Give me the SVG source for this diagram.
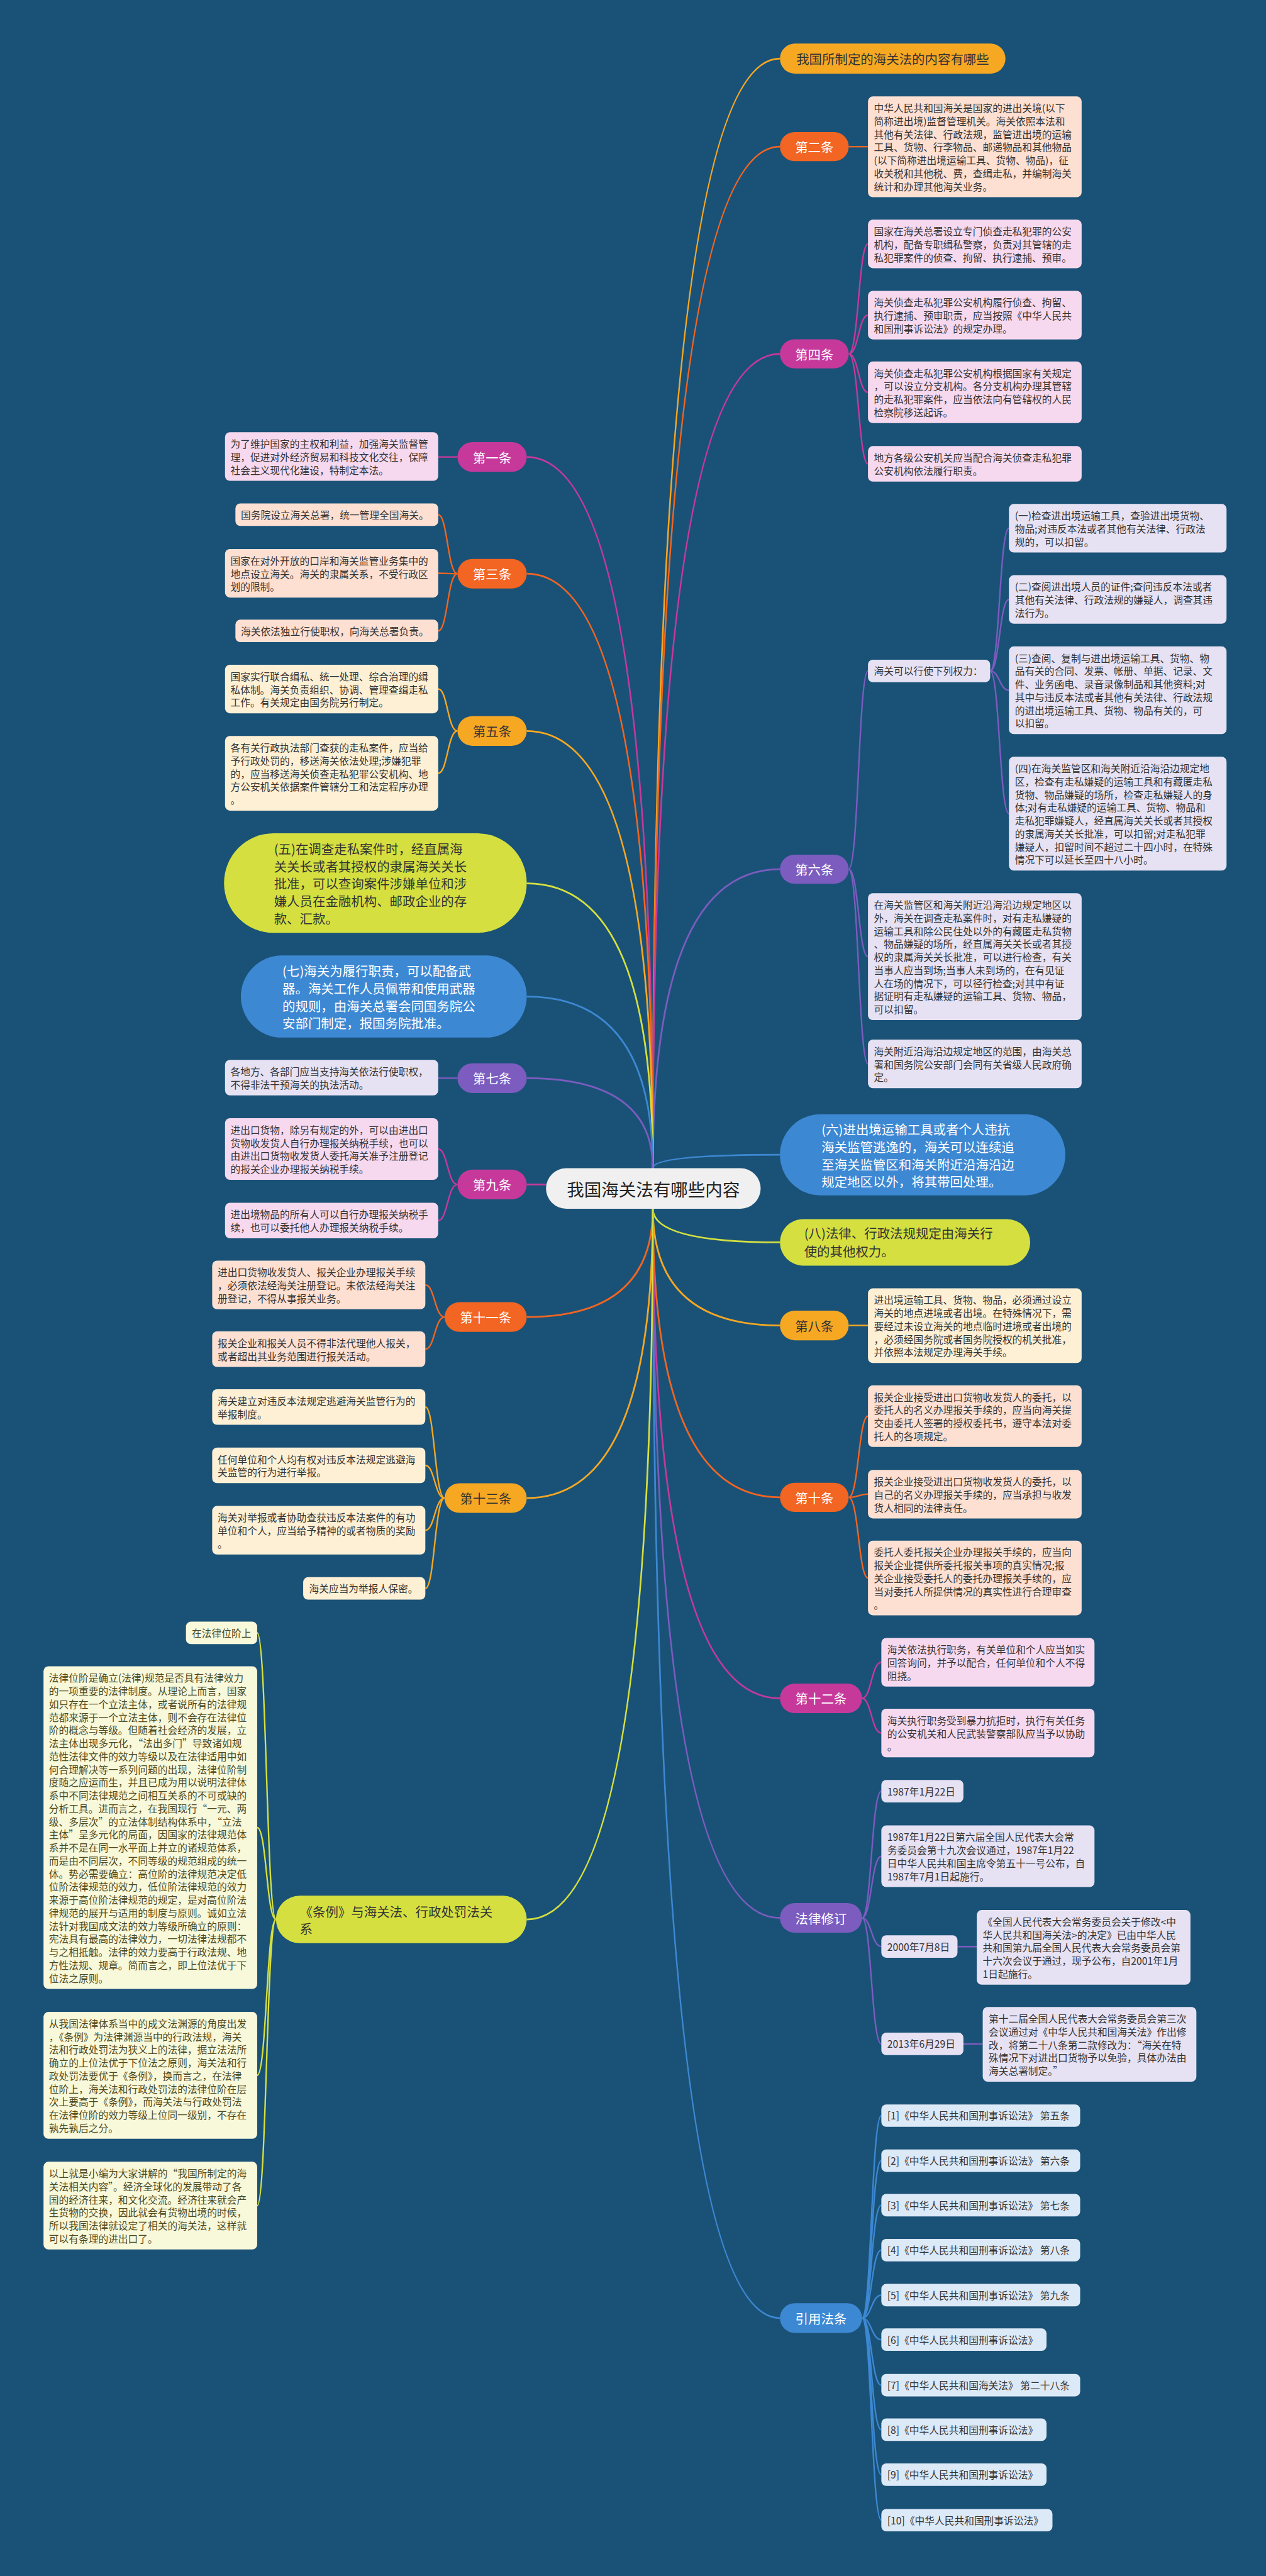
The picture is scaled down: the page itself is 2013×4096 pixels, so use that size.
<svg xmlns="http://www.w3.org/2000/svg" width="2013" height="4096" viewBox="0 0 2013 4096">
<style>
text{font-family:'Noto Sans CJK SC','Noto Sans',sans-serif;dominant-baseline:central}
.bt{font-size:20px;fill:#333}
.yt{font-size:20px;fill:#4d4a1f}
.nt{font-size:26px;text-anchor:middle}
.big{font-size:26px}
.w{fill:#fff}
.d{fill:#333}
.fm{fill:#c6399b}.fo{fill:#f26522}.fg{fill:#f7a823}.fp{fill:#7c5cbf}.fb{fill:#3d88d3}.fy{fill:#d5e040}
.bm{fill:#f7d9ef}.bo{fill:#fee0d2}.bg{fill:#fef0d5}.bp{fill:#e6e2f4}.bb{fill:#dce9f7}.by{fill:#f8f8da}
.c{fill:none;stroke-width:3.5}
.k{fill:none;stroke-width:3}
.sm{stroke:#c6399b}.so{stroke:#f26522}.sg{stroke:#f7a823}.sp{stroke:#7c5cbf}.sb{stroke:#3d88d3}.sy{stroke:#d5e040}
</style>
<rect x="0" y="0" width="2013" height="4096" fill="#1a5277"/>
<g transform="scale(0.7864)">
<g id="connectors">
<path class="c sg" d="M1320,2362 Q1320,118.5 1577,118.5"/>
<path class="c so" d="M1320,2362 Q1320,296.5 1577,296.5"/>
<path class="c sm" d="M1320,2362 Q1320,715.5 1577,715.5"/>
<path class="c sp" d="M1320,2362 Q1320,1757.5 1577,1757.5"/>
<path class="c sb" d="M1320,2362 Q1320,2335 1577,2335"/>
<path class="c sy" d="M1320,2444 Q1320,2512 1577,2512"/>
<path class="c sg" d="M1320,2444 Q1320,2680 1577,2680"/>
<path class="c so" d="M1320,2444 Q1320,3027.5 1577,3027.5"/>
<path class="c sm" d="M1320,2444 Q1320,3434 1577,3434"/>
<path class="c sp" d="M1320,2444 Q1320,3878 1577,3878"/>
<path class="c sb" d="M1320,2444 Q1320,4687 1577,4687"/>
<path class="c sm" d="M1320,2362 Q1320,924 1065,924"/>
<path class="c so" d="M1320,2362 Q1320,1160 1065,1160"/>
<path class="c sg" d="M1320,2362 Q1320,1478 1065,1478"/>
<path class="c sy" d="M1320,2362 Q1320,1786 1065,1786"/>
<path class="c sb" d="M1320,2362 Q1320,2015 1065,2015"/>
<path class="c sp" d="M1320,2362 Q1320,2180 1065,2180"/>
<path class="c sm" d="M1065,2395 L1104,2395"/>
<path class="c so" d="M1320,2444 Q1320,2663 1065,2663"/>
<path class="c sg" d="M1320,2444 Q1320,3029 1065,3029"/>
<path class="c sy" d="M1320,2444 Q1320,3881 1065,3881"/>

<path class="k so" d="M1716,296.5 L1755,296.5"/>
<path class="k sm" d="M1716,715.5 C1736,715.5 1736,493.1 1755,493.1 M1716,715.5 C1736,715.5 1736,637.1 1755,637.1 M1716,715.5 C1736,715.5 1736,793.3 1755,793.3 M1716,715.5 C1736,715.5 1736,937.9 1755,937.9"/>
<path class="k sp" d="M1716,1757.5 C1736,1757.5 1736,1356.7 1755,1356.7 M1716,1757.5 C1736,1757.5 1736,1934.3 1755,1934.3 M1716,1757.5 C1736,1757.5 1736,2151.1 1755,2151.1"/>
<path class="k sp" d="M2002,1356.7 C2021,1356.7 2021,1068.1 2040,1068.1 M2002,1356.7 C2021,1356.7 2021,1212.1 2040,1212.1 M2002,1356.7 C2021,1356.7 2021,1395.7 2040,1395.7 M2002,1356.7 C2021,1356.7 2021,1645.1 2040,1645.1"/>
<path class="k sg" d="M1716,2680 L1755,2680"/>
<path class="k so" d="M1716,3027.5 C1736,3027.5 1736,2863.3 1755,2863.3 M1716,3027.5 C1736,3027.5 1736,3021.1 1755,3021.1 M1716,3027.5 C1736,3027.5 1736,3190.5 1755,3190.5"/>
<path class="k sm" d="M1743,3434 C1762,3434 1762,3361.1 1782,3361.1 M1743,3434 C1762,3434 1762,3504.1 1782,3504.1"/>
<path class="k sp" d="M1743,3878 C1762,3878 1762,3621.7 1782,3621.7 M1743,3878 C1762,3878 1762,3753.3 1782,3753.3 M1743,3878 C1762,3878 1762,3935.7 1782,3935.7 M1743,3878 C1762,3878 1762,4132.7 1782,4132.7"/>
<path class="k sp" d="M1936,3936 L1975,3936 M1948,4133 L1987,4133"/>
<path class="k sb" d="M1743,4687 C1762,4687 1762,4277.7 1782,4277.7 M1743,4687 C1762,4687 1762,4368.7 1782,4368.7 M1743,4687 C1762,4687 1762,4458.7 1782,4458.7 M1743,4687 C1762,4687 1762,4549.7 1782,4549.7 M1743,4687 C1762,4687 1762,4640.7 1782,4640.7 M1743,4687 C1762,4687 1762,4730.7 1782,4730.7 M1743,4687 C1762,4687 1762,4822.7 1782,4822.7 M1743,4687 C1762,4687 1762,4912.7 1782,4912.7 M1743,4687 C1762,4687 1762,5003.7 1782,5003.7 M1743,4687 C1762,4687 1762,5095.7 1782,5095.7"/>
<path class="k sm" d="M925,924 L886,924"/>
<path class="k so" d="M925,1160 C905,1160 905,1040.7 886,1040.7 M925,1160 C905,1160 905,1159.1 886,1159.1 M925,1160 C905,1160 905,1275.7 886,1275.7"/>
<path class="k sg" d="M925,1478 C905,1478 905,1393.1 886,1393.1 M925,1478 C905,1478 905,1563.5 886,1563.5"/>
<path class="k sp" d="M925,2180 L886,2180"/>
<path class="k sm" d="M925,2395 C905,2395 905,2323.3 886,2323.3 M925,2395 C905,2395 905,2467.9 886,2467.9"/>
<path class="k so" d="M899,2663 C879,2663 879,2598.1 860,2598.1 M899,2663 C879,2663 879,2727.9 860,2727.9"/>
<path class="k sg" d="M899,3029 C879,3029 879,2844.9 860,2844.9 M899,3029 C879,3029 879,2962.9 860,2962.9 M899,3029 C879,3029 879,3094.1 860,3094.1 M899,3029 C879,3029 879,3211.7 860,3211.7"/>
<path class="k sy" d="M558,3881 C539,3881 539,3301.7 520,3301.7 M558,3881 C539,3881 539,3695.3 520,3695.3 M558,3881 C539,3881 539,4196.3 520,4196.3 M558,3881 C539,3881 539,4459.7 520,4459.7"/>
</g>

<g id="center">
<rect x="1104" y="2362" width="434" height="82" rx="41" fill="#f0f0f0"/>
<text x="1321" y="2403" font-size="35" text-anchor="middle" fill="#222">我国海关法有哪些内容</text>
</g>

<g id="n-title">
<rect class="fg" x="1577" y="88" width="456" height="61" rx="30.5"/>
<text class="nt d" x="1805" y="118.5">我国所制定的海关法的内容有哪些</text>
</g>

<g id="n-2">
<rect class="fo" x="1577" y="267" width="139" height="59" rx="29.5"/>
<text class="nt w" x="1646.5" y="296.5">第二条</text>
<rect class="bo" x="1755" y="195" width="432" height="203.8" rx="10"/>
<text class="bt" x="1767" y="217.7"><tspan x="1767">中华人民共和国海关是国家的进出关境(以下</tspan><tspan x="1767" dy="26.4">简称进出境)监督管理机关。海关依照本法和</tspan><tspan x="1767" dy="26.4">其他有关法律、行政法规，监管进出境的运输</tspan><tspan x="1767" dy="26.4">工具、货物、行李物品、邮递物品和其他物品</tspan><tspan x="1767" dy="26.4">(以下简称进出境运输工具、货物、物品)，征</tspan><tspan x="1767" dy="26.4">收关税和其他税、费，查缉走私，并编制海关</tspan><tspan x="1767" dy="26.4">统计和办理其他海关业务。</tspan></text>
</g>

<g id="n-4">
<rect class="fm" x="1577" y="686" width="139" height="59" rx="29.5"/>
<text class="nt w" x="1646.5" y="715.5">第四条</text>
<rect class="bm" x="1755" y="444" width="432" height="98.2" rx="10"/>
<text class="bt" x="1767" y="466.7"><tspan x="1767">国家在海关总署设立专门侦查走私犯罪的公安</tspan><tspan x="1767" dy="26.4">机构，配备专职缉私警察，负责对其管辖的走</tspan><tspan x="1767" dy="26.4">私犯罪案件的侦查、拘留、执行逮捕、预审。</tspan></text>
<rect class="bm" x="1755" y="588" width="432" height="98.2" rx="10"/>
<text class="bt" x="1767" y="610.7"><tspan x="1767">海关侦查走私犯罪公安机构履行侦查、拘留、</tspan><tspan x="1767" dy="26.4">执行逮捕、预审职责，应当按照《中华人民共</tspan><tspan x="1767" dy="26.4">和国刑事诉讼法》的规定办理。</tspan></text>
<rect class="bm" x="1755" y="731" width="432" height="124.6" rx="10"/>
<text class="bt" x="1767" y="753.7"><tspan x="1767">海关侦查走私犯罪公安机构根据国家有关规定</tspan><tspan x="1767" dy="26.4">，可以设立分支机构。各分支机构办理其管辖</tspan><tspan x="1767" dy="26.4">的走私犯罪案件，应当依法向有管辖权的人民</tspan><tspan x="1767" dy="26.4">检察院移送起诉。</tspan></text>
<rect class="bm" x="1755" y="902" width="432" height="71.8" rx="10"/>
<text class="bt" x="1767" y="924.7"><tspan x="1767">地方各级公安机关应当配合海关侦查走私犯罪</tspan><tspan x="1767" dy="26.4">公安机构依法履行职责。</tspan></text>
</g>

<g id="n-6">
<rect class="fp" x="1577" y="1728" width="139" height="59" rx="29.5"/>
<text class="nt w" x="1646.5" y="1757.5">第六条</text>
<rect class="bp" x="1755" y="1334" width="247" height="45.4" rx="10"/>
<text class="bt" x="1767" y="1356.7">海关可以行使下列权力：</text>
<rect class="bp" x="2040" y="1019" width="440" height="98.2" rx="10"/>
<text class="bt" x="2052" y="1041.7"><tspan x="2052">(一)检查进出境运输工具，查验进出境货物、</tspan><tspan x="2052" dy="26.4">物品;对违反本法或者其他有关法律、行政法</tspan><tspan x="2052" dy="26.4">规的，可以扣留。</tspan></text>
<rect class="bp" x="2040" y="1163" width="440" height="98.2" rx="10"/>
<text class="bt" x="2052" y="1185.7"><tspan x="2052">(二)查阅进出境人员的证件;查问违反本法或者</tspan><tspan x="2052" dy="26.4">其他有关法律、行政法规的嫌疑人，调查其违</tspan><tspan x="2052" dy="26.4">法行为。</tspan></text>
<rect class="bp" x="2040" y="1307" width="440" height="177.4" rx="10"/>
<text class="bt" x="2052" y="1329.7"><tspan x="2052">(三)查阅、复制与进出境运输工具、货物、物</tspan><tspan x="2052" dy="26.4">品有关的合同、发票、帐册、单据、记录、文</tspan><tspan x="2052" dy="26.4">件、业务函电、录音录像制品和其他资料;对</tspan><tspan x="2052" dy="26.4">其中与违反本法或者其他有关法律、行政法规</tspan><tspan x="2052" dy="26.4">的进出境运输工具、货物、物品有关的，可</tspan><tspan x="2052" dy="26.4">以扣留。</tspan></text>
<rect class="bp" x="2040" y="1530" width="440" height="230.2" rx="10"/>
<text class="bt" x="2052" y="1552.7"><tspan x="2052">(四)在海关监管区和海关附近沿海沿边规定地</tspan><tspan x="2052" dy="26.4">区，检查有走私嫌疑的运输工具和有藏匿走私</tspan><tspan x="2052" dy="26.4">货物、物品嫌疑的场所，检查走私嫌疑人的身</tspan><tspan x="2052" dy="26.4">体;对有走私嫌疑的运输工具、货物、物品和</tspan><tspan x="2052" dy="26.4">走私犯罪嫌疑人，经直属海关关长或者其授权</tspan><tspan x="2052" dy="26.4">的隶属海关关长批准，可以扣留;对走私犯罪</tspan><tspan x="2052" dy="26.4">嫌疑人，扣留时间不超过二十四小时，在特殊</tspan><tspan x="2052" dy="26.4">情况下可以延长至四十八小时。</tspan></text>
<rect class="bp" x="1755" y="1806" width="432" height="256.6" rx="10"/>
<text class="bt" x="1767" y="1828.7"><tspan x="1767">在海关监管区和海关附近沿海沿边规定地区以</tspan><tspan x="1767" dy="26.4">外，海关在调查走私案件时，对有走私嫌疑的</tspan><tspan x="1767" dy="26.4">运输工具和除公民住处以外的有藏匿走私货物</tspan><tspan x="1767" dy="26.4">、物品嫌疑的场所，经直属海关关长或者其授</tspan><tspan x="1767" dy="26.4">权的隶属海关关长批准，可以进行检查，有关</tspan><tspan x="1767" dy="26.4">当事人应当到场;当事人未到场的，在有见证</tspan><tspan x="1767" dy="26.4">人在场的情况下，可以径行检查;对其中有证</tspan><tspan x="1767" dy="26.4">据证明有走私嫌疑的运输工具、货物、物品，</tspan><tspan x="1767" dy="26.4">可以扣留。</tspan></text>
<rect class="bp" x="1755" y="2102" width="432" height="98.2" rx="10"/>
<text class="bt" x="1767" y="2124.7"><tspan x="1767">海关附近沿海沿边规定地区的范围，由海关总</tspan><tspan x="1767" dy="26.4">署和国务院公安部门会同有关省级人民政府确</tspan><tspan x="1767" dy="26.4">定。</tspan></text>
</g>

<g id="n-liu">
<rect class="fb" x="1577" y="2253" width="577" height="164" rx="82"/>
<text class="big w" x="1661" y="2283"><tspan x="1661">(六)进出境运输工具或者个人违抗</tspan><tspan x="1661" dy="35.2">海关监管逃逸的，海关可以连续追</tspan><tspan x="1661" dy="35.2">至海关监管区和海关附近沿海沿边</tspan><tspan x="1661" dy="35.2">规定地区以外，将其带回处理。</tspan></text>
</g>

<g id="n-ba">
<rect class="fy" x="1577" y="2465" width="506" height="94" rx="47"/>
<text class="big d" x="1626" y="2493"><tspan x="1626">(八)法律、行政法规规定由海关行</tspan><tspan x="1626" dy="36">使的其他权力。</tspan></text>
</g>

<g id="n-8">
<rect class="fg" x="1577" y="2650" width="139" height="60" rx="30"/>
<text class="nt d" x="1646.5" y="2680">第八条</text>
<rect class="bg" x="1755" y="2605" width="432" height="151" rx="10"/>
<text class="bt" x="1767" y="2627.7"><tspan x="1767">进出境运输工具、货物、物品，必须通过设立</tspan><tspan x="1767" dy="26.4">海关的地点进境或者出境。在特殊情况下，需</tspan><tspan x="1767" dy="26.4">要经过未设立海关的地点临时进境或者出境的</tspan><tspan x="1767" dy="26.4">，必须经国务院或者国务院授权的机关批准，</tspan><tspan x="1767" dy="26.4">并依照本法规定办理海关手续。</tspan></text>
</g>

<g id="n-10">
<rect class="fo" x="1577" y="2998" width="139" height="59" rx="29.5"/>
<text class="nt w" x="1646.5" y="3027.5">第十条</text>
<rect class="bo" x="1755" y="2801" width="432" height="124.6" rx="10"/>
<text class="bt" x="1767" y="2823.7"><tspan x="1767">报关企业接受进出口货物收发货人的委托，以</tspan><tspan x="1767" dy="26.4">委托人的名义办理报关手续的，应当向海关提</tspan><tspan x="1767" dy="26.4">交由委托人签署的授权委托书，遵守本法对委</tspan><tspan x="1767" dy="26.4">托人的各项规定。</tspan></text>
<rect class="bo" x="1755" y="2972" width="432" height="98.2" rx="10"/>
<text class="bt" x="1767" y="2994.7"><tspan x="1767">报关企业接受进出口货物收发货人的委托，以</tspan><tspan x="1767" dy="26.4">自己的名义办理报关手续的，应当承担与收发</tspan><tspan x="1767" dy="26.4">货人相同的法律责任。</tspan></text>
<rect class="bo" x="1755" y="3115" width="432" height="151" rx="10"/>
<text class="bt" x="1767" y="3137.7"><tspan x="1767">委托人委托报关企业办理报关手续的，应当向</tspan><tspan x="1767" dy="26.4">报关企业提供所委托报关事项的真实情况;报</tspan><tspan x="1767" dy="26.4">关企业接受委托人的委托办理报关手续的，应</tspan><tspan x="1767" dy="26.4">当对委托人所提供情况的真实性进行合理审查</tspan><tspan x="1767" dy="26.4">。</tspan></text>
</g>

<g id="n-12">
<rect class="fm" x="1577" y="3404" width="166" height="60" rx="30"/>
<text class="nt w" x="1660" y="3434">第十二条</text>
<rect class="bm" x="1782" y="3312" width="431" height="98.2" rx="10"/>
<text class="bt" x="1794" y="3334.7"><tspan x="1794">海关依法执行职务，有关单位和个人应当如实</tspan><tspan x="1794" dy="26.4">回答询问，并予以配合，任何单位和个人不得</tspan><tspan x="1794" dy="26.4">阻挠。</tspan></text>
<rect class="bm" x="1782" y="3455" width="431" height="98.2" rx="10"/>
<text class="bt" x="1794" y="3477.7"><tspan x="1794">海关执行职务受到暴力抗拒时，执行有关任务</tspan><tspan x="1794" dy="26.4">的公安机关和人民武装警察部队应当予以协助</tspan><tspan x="1794" dy="26.4">。</tspan></text>
</g>

<g id="n-xiuding">
<rect class="fp" x="1577" y="3848" width="166" height="60" rx="30"/>
<text class="nt w" x="1660" y="3878">法律修订</text>
<rect class="bp" x="1782" y="3599" width="166" height="45.4" rx="10"/>
<text class="bt" x="1794" y="3621.7">1987年1月22日</text>
<rect class="bp" x="1782" y="3691" width="431" height="124.6" rx="10"/>
<text class="bt" x="1794" y="3713.7"><tspan x="1794">1987年1月22日第六届全国人民代表大会常</tspan><tspan x="1794" dy="26.4">务委员会第十九次会议通过，1987年1月22</tspan><tspan x="1794" dy="26.4">日中华人民共和国主席令第五十一号公布，自</tspan><tspan x="1794" dy="26.4">1987年7月1日起施行。</tspan></text>
<rect class="bp" x="1782" y="3913" width="154" height="45.4" rx="10"/>
<text class="bt" x="1794" y="3935.7">2000年7月8日</text>
<rect class="bp" x="1975" y="3862" width="432" height="151" rx="10"/>
<text class="bt" x="1987" y="3884.7"><tspan x="1987">《全国人民代表大会常务委员会关于修改&lt;中</tspan><tspan x="1987" dy="26.4">华人民共和国海关法&gt;的决定》已由中华人民</tspan><tspan x="1987" dy="26.4">共和国第九届全国人民代表大会常务委员会第</tspan><tspan x="1987" dy="26.4">十六次会议于通过，现予公布，自2001年1月</tspan><tspan x="1987" dy="26.4">1日起施行。</tspan></text>
<rect class="bp" x="1782" y="4110" width="166" height="45.4" rx="10"/>
<text class="bt" x="1794" y="4132.7">2013年6月29日</text>
<rect class="bp" x="1987" y="4058" width="432" height="151" rx="10"/>
<text class="bt" x="1999" y="4080.7"><tspan x="1999">第十二届全国人民代表大会常务委员会第三次</tspan><tspan x="1999" dy="26.4">会议通过对《中华人民共和国海关法》作出修</tspan><tspan x="1999" dy="26.4">改，将第二十八条第二款修改为：“海关在特</tspan><tspan x="1999" dy="26.4">殊情况下对进出口货物予以免验，具体办法由</tspan><tspan x="1999" dy="26.4">海关总署制定。”</tspan></text>
</g>

<g id="n-yinyong">
<rect class="fb" x="1577" y="4657" width="166" height="60" rx="30"/>
<text class="nt w" x="1660" y="4687">引用法条</text>
<rect class="bb" x="1782" y="4255" width="402" height="45.4" rx="10"/>
<text class="bt" x="1794" y="4277.7">[1]《中华人民共和国刑事诉讼法》 第五条</text>
<rect class="bb" x="1782" y="4346" width="402" height="45.4" rx="10"/>
<text class="bt" x="1794" y="4368.7">[2]《中华人民共和国刑事诉讼法》 第六条</text>
<rect class="bb" x="1782" y="4436" width="402" height="45.4" rx="10"/>
<text class="bt" x="1794" y="4458.7">[3]《中华人民共和国刑事诉讼法》 第七条</text>
<rect class="bb" x="1782" y="4527" width="402" height="45.4" rx="10"/>
<text class="bt" x="1794" y="4549.7">[4]《中华人民共和国刑事诉讼法》 第八条</text>
<rect class="bb" x="1782" y="4618" width="402" height="45.4" rx="10"/>
<text class="bt" x="1794" y="4640.7">[5]《中华人民共和国刑事诉讼法》 第九条</text>
<rect class="bb" x="1782" y="4708" width="334" height="45.4" rx="10"/>
<text class="bt" x="1794" y="4730.7">[6]《中华人民共和国刑事诉讼法》</text>
<rect class="bb" x="1782" y="4800" width="402" height="45.4" rx="10"/>
<text class="bt" x="1794" y="4822.7">[7]《中华人民共和国海关法》 第二十八条</text>
<rect class="bb" x="1782" y="4890" width="334" height="45.4" rx="10"/>
<text class="bt" x="1794" y="4912.7">[8]《中华人民共和国刑事诉讼法》</text>
<rect class="bb" x="1782" y="4981" width="334" height="45.4" rx="10"/>
<text class="bt" x="1794" y="5003.7">[9]《中华人民共和国刑事诉讼法》</text>
<rect class="bb" x="1782" y="5073" width="346" height="45.4" rx="10"/>
<text class="bt" x="1794" y="5095.7">[10]《中华人民共和国刑事诉讼法》</text>
</g>

<g id="n-1">
<rect class="fm" x="925" y="894" width="140" height="60" rx="30"/>
<text class="nt w" x="995" y="924">第一条</text>
<rect class="bm" x="455" y="874" width="431" height="98.2" rx="10"/>
<text class="bt" x="466" y="896.7"><tspan x="466">为了维护国家的主权和利益，加强海关监督管</tspan><tspan x="466" dy="26.4">理，促进对外经济贸易和科技文化交往，保障</tspan><tspan x="466" dy="26.4">社会主义现代化建设，特制定本法。</tspan></text>
</g>

<g id="n-3">
<rect class="fo" x="925" y="1130" width="140" height="60" rx="30"/>
<text class="nt w" x="995" y="1160">第三条</text>
<rect class="bo" x="476" y="1018" width="410" height="45.4" rx="10"/>
<text class="bt" x="487" y="1040.7">国务院设立海关总署，统一管理全国海关。</text>
<rect class="bo" x="455" y="1110" width="431" height="98.2" rx="10"/>
<text class="bt" x="466" y="1132.7"><tspan x="466">国家在对外开放的口岸和海关监管业务集中的</tspan><tspan x="466" dy="26.4">地点设立海关。海关的隶属关系，不受行政区</tspan><tspan x="466" dy="26.4">划的限制。</tspan></text>
<rect class="bo" x="476" y="1253" width="410" height="45.4" rx="10"/>
<text class="bt" x="487" y="1275.7">海关依法独立行使职权，向海关总署负责。</text>
</g>

<g id="n-5">
<rect class="fg" x="925" y="1448" width="140" height="60" rx="30"/>
<text class="nt d" x="995" y="1478">第五条</text>
<rect class="bg" x="455" y="1344" width="431" height="98.2" rx="10"/>
<text class="bt" x="466" y="1366.7"><tspan x="466">国家实行联合缉私、统一处理、综合治理的缉</tspan><tspan x="466" dy="26.4">私体制。海关负责组织、协调、管理查缉走私</tspan><tspan x="466" dy="26.4">工作。有关规定由国务院另行制定。</tspan></text>
<rect class="bg" x="455" y="1488" width="431" height="151" rx="10"/>
<text class="bt" x="466" y="1510.7"><tspan x="466">各有关行政执法部门查获的走私案件，应当给</tspan><tspan x="466" dy="26.4">予行政处罚的，移送海关依法处理;涉嫌犯罪</tspan><tspan x="466" dy="26.4">的，应当移送海关侦查走私犯罪公安机构、地</tspan><tspan x="466" dy="26.4">方公安机关依据案件管辖分工和法定程序办理</tspan><tspan x="466" dy="26.4">。</tspan></text>
</g>

<g id="n-wu">
<rect class="fy" x="453" y="1685" width="612" height="201" rx="100"/>
<text class="big d" x="554" y="1715"><tspan x="554">(五)在调查走私案件时，经直属海</tspan><tspan x="554" dy="35.4">关关长或者其授权的隶属海关关长</tspan><tspan x="554" dy="35.4">批准，可以查询案件涉嫌单位和涉</tspan><tspan x="554" dy="35.4">嫌人员在金融机构、邮政企业的存</tspan><tspan x="554" dy="35.4">款、汇款。</tspan></text>
</g>

<g id="n-qi">
<rect class="fb" x="487" y="1932" width="578" height="166" rx="83"/>
<text class="big w" x="571" y="1962"><tspan x="571">(七)海关为履行职责，可以配备武</tspan><tspan x="571" dy="35.4">器。海关工作人员佩带和使用武器</tspan><tspan x="571" dy="35.4">的规则，由海关总署会同国务院公</tspan><tspan x="571" dy="35.4">安部门制定，报国务院批准。</tspan></text>
</g>

<g id="n-7">
<rect class="fp" x="925" y="2150" width="140" height="60" rx="30"/>
<text class="nt w" x="995" y="2180">第七条</text>
<rect class="bp" x="455" y="2143" width="431" height="71.8" rx="10"/>
<text class="bt" x="466" y="2165.7"><tspan x="466">各地方、各部门应当支持海关依法行使职权，</tspan><tspan x="466" dy="26.4">不得非法干预海关的执法活动。</tspan></text>
</g>

<g id="n-9">
<rect class="fm" x="925" y="2365" width="140" height="60" rx="30"/>
<text class="nt w" x="995" y="2395">第九条</text>
<rect class="bm" x="455" y="2261" width="431" height="124.6" rx="10"/>
<text class="bt" x="466" y="2283.7"><tspan x="466">进出口货物，除另有规定的外，可以由进出口</tspan><tspan x="466" dy="26.4">货物收发货人自行办理报关纳税手续，也可以</tspan><tspan x="466" dy="26.4">由进出口货物收发货人委托海关准予注册登记</tspan><tspan x="466" dy="26.4">的报关企业办理报关纳税手续。</tspan></text>
<rect class="bm" x="455" y="2432" width="431" height="71.8" rx="10"/>
<text class="bt" x="466" y="2454.7"><tspan x="466">进出境物品的所有人可以自行办理报关纳税手</tspan><tspan x="466" dy="26.4">续，也可以委托他人办理报关纳税手续。</tspan></text>
</g>

<g id="n-11">
<rect class="fo" x="899" y="2633" width="166" height="60" rx="30"/>
<text class="nt w" x="982" y="2663">第十一条</text>
<rect class="bo" x="429" y="2549" width="431" height="98.2" rx="10"/>
<text class="bt" x="440" y="2571.7"><tspan x="440">进出口货物收发货人、报关企业办理报关手续</tspan><tspan x="440" dy="26.4">，必须依法经海关注册登记。未依法经海关注</tspan><tspan x="440" dy="26.4">册登记，不得从事报关业务。</tspan></text>
<rect class="bo" x="429" y="2692" width="431" height="71.8" rx="10"/>
<text class="bt" x="440" y="2714.7"><tspan x="440">报关企业和报关人员不得非法代理他人报关，</tspan><tspan x="440" dy="26.4">或者超出其业务范围进行报关活动。</tspan></text>
</g>

<g id="n-13">
<rect class="fg" x="899" y="2999" width="166" height="60" rx="30"/>
<text class="nt d" x="982" y="3029">第十三条</text>
<rect class="bg" x="429" y="2809" width="431" height="71.8" rx="10"/>
<text class="bt" x="440" y="2831.7"><tspan x="440">海关建立对违反本法规定逃避海关监管行为的</tspan><tspan x="440" dy="26.4">举报制度。</tspan></text>
<rect class="bg" x="429" y="2927" width="431" height="71.8" rx="10"/>
<text class="bt" x="440" y="2949.7"><tspan x="440">任何单位和个人均有权对违反本法规定逃避海</tspan><tspan x="440" dy="26.4">关监管的行为进行举报。</tspan></text>
<rect class="bg" x="429" y="3045" width="431" height="98.2" rx="10"/>
<text class="bt" x="440" y="3067.7"><tspan x="440">海关对举报或者协助查获违反本法案件的有功</tspan><tspan x="440" dy="26.4">单位和个人，应当给予精神的或者物质的奖励</tspan><tspan x="440" dy="26.4">。</tspan></text>
<rect class="bg" x="613" y="3189" width="247" height="45.4" rx="10"/>
<text class="bt" x="625" y="3211.7">海关应当为举报人保密。</text>
</g>

<g id="n-tiaoli">
<rect class="fy" x="558" y="3833" width="507" height="96" rx="48"/>
<text class="big d" x="606" y="3865"><tspan x="606">《条例》与海关法、行政处罚法关</tspan><tspan x="606" dy="34">系</tspan></text>
<rect class="by" x="376" y="3279" width="144" height="45.4" rx="10"/>
<text class="yt" x="388" y="3301.7">在法律位阶上</text>
<rect class="by" x="88" y="3369" width="432" height="652.6" rx="10"/>
<text class="yt" x="99" y="3391.7"><tspan x="99">法律位阶是确立(法律)规范是否具有法律效力</tspan><tspan x="99" dy="26.4">的一项重要的法律制度。从理论上而言，国家</tspan><tspan x="99" dy="26.4">如只存在一个立法主体，或者说所有的法律规</tspan><tspan x="99" dy="26.4">范都来源于一个立法主体，则不会存在法律位</tspan><tspan x="99" dy="26.4">阶的概念与等级。但随着社会经济的发展，立</tspan><tspan x="99" dy="26.4">法主体出现多元化，“法出多门”导致诸如规</tspan><tspan x="99" dy="26.4">范性法律文件的效力等级以及在法律适用中如</tspan><tspan x="99" dy="26.4">何合理解决等一系列问题的出现，法律位阶制</tspan><tspan x="99" dy="26.4">度随之应运而生，并且已成为用以说明法律体</tspan><tspan x="99" dy="26.4">系中不同法律规范之间相互关系的不可或缺的</tspan><tspan x="99" dy="26.4">分析工具。进而言之，在我国现行“一元、两</tspan><tspan x="99" dy="26.4">级、多层次”的立法体制结构体系中，“立法</tspan><tspan x="99" dy="26.4">主体”呈多元化的局面，因国家的法律规范体</tspan><tspan x="99" dy="26.4">系并不是在同一水平面上并立的诸规范体系，</tspan><tspan x="99" dy="26.4">而是由不同层次，不同等级的规范组成的统一</tspan><tspan x="99" dy="26.4">体。势必需要确立：高位阶的法律规范决定低</tspan><tspan x="99" dy="26.4">位阶法律规范的效力，低位阶法律规范的效力</tspan><tspan x="99" dy="26.4">来源于高位阶法律规范的规定，是对高位阶法</tspan><tspan x="99" dy="26.4">律规范的展开与适用的制度与原则。诚如立法</tspan><tspan x="99" dy="26.4">法针对我国成文法的效力等级所确立的原则：</tspan><tspan x="99" dy="26.4">宪法具有最高的法律效力，一切法律法规都不</tspan><tspan x="99" dy="26.4">与之相抵触。法律的效力要高于行政法规、地</tspan><tspan x="99" dy="26.4">方性法规、规章。简而言之，即上位法优于下</tspan><tspan x="99" dy="26.4">位法之原则。</tspan></text>
<rect class="by" x="88" y="4068" width="432" height="256.6" rx="10"/>
<text class="yt" x="99" y="4090.7"><tspan x="99">从我国法律体系当中的成文法渊源的角度出发</tspan><tspan x="99" dy="26.4">，《条例》为法律渊源当中的行政法规，海关</tspan><tspan x="99" dy="26.4">法和行政处罚法为狭义上的法律，据立法法所</tspan><tspan x="99" dy="26.4">确立的上位法优于下位法之原则，海关法和行</tspan><tspan x="99" dy="26.4">政处罚法要优于《条例》，换而言之，在法律</tspan><tspan x="99" dy="26.4">位阶上，海关法和行政处罚法的法律位阶在层</tspan><tspan x="99" dy="26.4">次上要高于《条例》，而海关法与行政处罚法</tspan><tspan x="99" dy="26.4">在法律位阶的效力等级上位同一级别，不存在</tspan><tspan x="99" dy="26.4">孰先孰后之分。</tspan></text>
<rect class="by" x="88" y="4371" width="432" height="177.4" rx="10"/>
<text class="yt" x="99" y="4393.7"><tspan x="99">以上就是小编为大家讲解的“我国所制定的海</tspan><tspan x="99" dy="26.4">关法相关内容”。经济全球化的发展带动了各</tspan><tspan x="99" dy="26.4">国的经济往来，和文化交流。经济往来就会产</tspan><tspan x="99" dy="26.4">生货物的交换，因此就会有货物出境的时候，</tspan><tspan x="99" dy="26.4">所以我国法律就设定了相关的海关法，这样就</tspan><tspan x="99" dy="26.4">可以有条理的进出口了。</tspan></text>
</g>
</g>
</svg>
